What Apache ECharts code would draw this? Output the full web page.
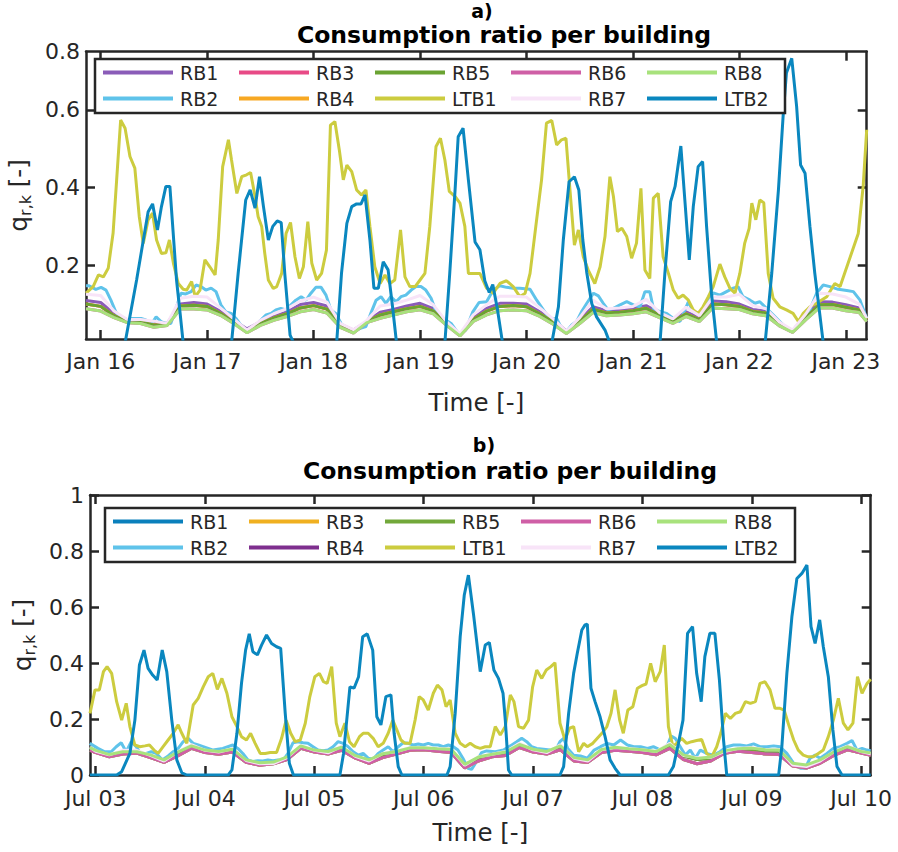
<!DOCTYPE html>
<html><head><meta charset="utf-8">
<script src="https://cdn.jsdelivr.net/npm/echarts@6/dist/echarts.min.js"></script>
<style>html,body{margin:0;padding:0;background:#fff;overflow:hidden}#a,#b{width:898px;height:426px}</style>
</head><body><div id="a"></div><div id="b"></div>
<script>
// ---------- tick labels ----------
const xTicks = [0,24,48,72,96,120,144,168];           // hours since first labelled day
const xLabelsA = ['Jan 16','Jan 17','Jan 18','Jan 19','Jan 20','Jan 21','Jan 22','Jan 23'];
const xLabelsB = ['Jul 03','Jul 04','Jul 05','Jul 06','Jul 07','Jul 08','Jul 09','Jul 10'];
const yTicksA = [0.2,0.4,0.6];
const yLabelValsA = [0.2,0.4,0.6,0.75];
const yTicksB = [0,0.2,0.4,0.6,0.8,1];
const legendOrder = ['RB1','RB3','RB5','RB6','RB8','RB2','RB4','LTB1','RB7','LTB2'];
const seriesNames = ['RB1','RB2','RB3','RB4','RB5','LTB1','RB6','RB7','RB8','LTB2'];

// ---------- chart a) : January (hours since Jan 16 00:00) ----------
const tLTB1a = [-3.3,-1.7,-0.5,0.6,1.7,2.8,3.6,4.5,5.5,6.6,7.7,8.7,9.6,10.7,11.7,12.6,13.7,14.7,15.5,16.4,17.5,18.6,19.4,20.5,21.3,22.4,23.5,24.6,25.8,26.5,27.5,28.8,29.5,30.7,31.8,32.9,33.8,34.8,35.5,36.3,37,37.8,38.9,39.7,40.8,41.8,42.8,43.8,44.8,45.7,46.7,47.6,48.7,49.8,50.9,51.8,52.8,53.8,54.7,55.5,56.6,57.7,58.8,59.8,60.7,61.8,63,64.1,65.2,66.3,67.6,68.6,69.7,70.9,72,73.1,74.2,75.6,76.6,77.6,78.6,79.9,81,82.1,82.9,85.5,87,88.5,90,91.5,93,94.5,95.7,96.8,98.1,99.4,100.5,101.7,102.8,103.9,104.9,105.8,106.8,107.7,108.8,109.9,111.4,112.6,113.7,114.8,115.6,116.5,117.5,118.6,119.7,120.8,121.8,122.7,123.8,124.6,125.7,126.8,128,129.1,130.2,131.3,132.5,133.6,134.7,135.8,137,138.1,139.6,140.7,141.9,143,144.1,145.2,146.2,146.8,147.7,148.6,149.5,150.5,151.6,153.1,154.6,156.1,157.3,158.4,159.9,161.4,163.7,165.5,166.7,168.5,170.8,171.9,172.7];
const vLTB1a = [0.128,0.145,0.175,0.17,0.192,0.283,0.42,0.574,0.553,0.48,0.45,0.325,0.256,0.317,0.334,0.265,0.23,0.232,0.265,0.205,0.153,0.138,0.136,0.158,0.119,0.136,0.214,0.196,0.175,0.265,0.454,0.523,0.471,0.385,0.428,0.433,0.439,0.377,0.325,0.3,0.23,0.162,0.14,0.145,0.179,0.282,0.31,0.222,0.166,0.196,0.312,0.205,0.162,0.179,0.239,0.561,0.57,0.497,0.42,0.458,0.441,0.394,0.381,0.394,0.3,0.196,0.153,0.175,0.153,0.162,0.291,0.17,0.145,0.145,0.162,0.179,0.3,0.506,0.527,0.471,0.39,0.377,0.36,0.3,0.179,0.179,0.141,0.128,0.153,0.16,0.145,0.119,0.128,0.179,0.3,0.42,0.566,0.573,0.51,0.523,0.527,0.394,0.252,0.291,0.222,0.188,0.153,0.196,0.274,0.428,0.377,0.287,0.295,0.274,0.218,0.257,0.398,0.188,0.166,0.373,0.385,0.222,0.179,0.136,0.115,0.123,0.11,0.085,0.076,0.093,0.119,0.145,0.203,0.17,0.14,0.128,0.179,0.257,0.295,0.36,0.317,0.368,0.361,0.179,0.115,0.093,0.085,0.076,0.055,0.076,0.093,0.102,0.119,0.153,0.145,0.205,0.282,0.403,0.549];
const tLTB2a = [-3.3,5.5,8.1,10.7,11.7,12.8,13.7,14.7,15.6,17.1,17.9,18.6,29.5,31,32.7,33.7,34.8,35.8,36.7,37.8,38.8,39.8,40.7,41.5,42.7,43.5,53.2,54.3,55.5,56.6,57.7,58.7,59.6,60.7,61.6,62.6,63.7,64.8,65.8,66.7,77.6,78.7,79.9,80.6,81.7,82.9,84.4,85.5,86.6,87.6,88.4,89.4,90.6,101.7,103.2,104.3,105.6,106.8,107.8,108.7,109.6,110.7,111.8,113.7,114.8,126.1,127.2,128.5,129.5,130.8,131.7,132.7,133.6,134.7,135.7,136.6,137.7,138.9,149.8,151.3,152.8,153.9,154.6,155.8,156.9,157.8,158.8,159.9,161,162.1,162.9,172.7];
const vLTB2a = [0,0,0.162,0.338,0.358,0.291,0.351,0.403,0.403,0.162,0.077,0,0,0.18,0.368,0.394,0.347,0.428,0.351,0.265,0.3,0.314,0.31,0.179,0.02,0,0,0.18,0.308,0.351,0.358,0.358,0.381,0.265,0.141,0.141,0.209,0.188,0.093,0,0,0.18,0.394,0.531,0.553,0.42,0.26,0.24,0.16,0.13,0.15,0.09,0,0,0.093,0.265,0.415,0.428,0.394,0.265,0.18,0.102,0.067,0.033,0,0,0.18,0.364,0.403,0.507,0.368,0.214,0.351,0.454,0.467,0.3,0.128,0,0,0.18,0.394,0.592,0.695,0.733,0.609,0.458,0.437,0.3,0.179,0.076,0,0];
const tRB2a = [-3.3,-2.6,-1.1,0.1,1.2,2.3,3.4,4.6,5.7,6.8,8,9.1,10.2,11.3,12.5,13.6,14.7,15.8,17,18.1,19.2,20.4,21.5,22.6,23.7,24.9,26,27.1,28.2,29.4,30.5,31.6,32.8,33.9,35,36.1,37.3,38.4,39.5,40.6,41.8,42.9,44,45.2,46.3,47.4,48.5,49.7,50.8,51.9,53,54.2,55.3,56.4,57.6,58.7,59.8,60.9,62.1,63.2,64.3,65.4,66.6,67.7,68.8,70,71.1,72.2,73.3,74.5,75.6,76.7,77.8,79,80.1,80.8,82.3,83.9,85.3,87,88.5,90,91.5,93,94.5,96.8,98.3,99.8,101.3,102.8,103.9,105,106.2,107.3,108.4,109.6,111.1,112.2,113.3,114.4,115.6,117.1,118.6,120.1,121.6,122.7,123.8,124.6,126.1,127.6,129.1,130.6,132.5,133.6,135.1,136.6,138.1,139.6,141.1,142.6,143.7,144.8,146.4,147.5,148.6,150.1,151.6,153.1,154.6,155.8,156.9,158.4,159.9,161.4,162.9,164.4,166.3,168.2,169.7,171.2,172.7];
const vRB2a = [0.147,0.147,0.138,0.143,0.136,0.11,0.08,0.063,0.057,0.063,0.063,0.063,0.059,0.046,0.067,0.055,0.05,0.05,0.089,0.128,0.126,0.132,0.149,0.145,0.136,0.141,0.132,0.098,0.08,0.076,0.063,0.046,0.029,0.033,0.046,0.059,0.072,0.076,0.085,0.089,0.085,0.098,0.11,0.119,0.11,0.128,0.143,0.143,0.123,0.085,0.076,0.05,0.038,0.033,0.033,0.038,0.042,0.076,0.11,0.119,0.102,0.119,0.106,0.119,0.123,0.136,0.145,0.145,0.136,0.115,0.08,0.067,0.059,0.05,0.033,0.02,0.033,0.08,0.104,0.106,0.136,0.147,0.143,0.141,0.141,0.138,0.11,0.085,0.061,0.063,0.038,0.029,0.046,0.055,0.08,0.102,0.128,0.121,0.102,0.085,0.089,0.098,0.106,0.098,0.093,0.132,0.132,0.089,0.08,0.076,0.063,0.055,0.106,0.08,0.076,0.098,0.129,0.123,0.132,0.141,0.145,0.119,0.11,0.102,0.106,0.089,0.072,0.055,0.038,0.029,0.042,0.067,0.085,0.128,0.149,0.145,0.138,0.135,0.132,0.11,0.063];
const tRBa = [-3.3,0,3,6,9,12,15,18,21,24,27,30,33,36,39,42,45,48,51,54,57,60,63,66,69,72,75,78,81,84,87,90,93,96,99,102,105,108,111,114,117,120,123,126,129,132,135,138,141,144,147,150,153,156,159,162,165,168,171,172.7];
const vRB1a = [0.109,0.104,0.075,0.059,0.055,0.052,0.05,0.1,0.104,0.1,0.081,0.058,0.036,0.054,0.069,0.08,0.099,0.104,0.095,0.048,0.033,0.055,0.079,0.086,0.095,0.102,0.088,0.05,0.022,0.065,0.089,0.102,0.102,0.1,0.08,0.06,0.03,0.06,0.093,0.083,0.085,0.089,0.096,0.077,0.06,0.08,0.064,0.108,0.106,0.1,0.086,0.082,0.05,0.032,0.07,0.106,0.105,0.098,0.09,0.063];
const vRB3a = [0.1,0.094,0.07,0.055,0.053,0.046,0.047,0.095,0.097,0.094,0.076,0.054,0.03,0.05,0.064,0.075,0.09,0.096,0.087,0.044,0.029,0.054,0.072,0.08,0.088,0.094,0.082,0.048,0.02,0.06,0.082,0.094,0.096,0.093,0.075,0.054,0.027,0.055,0.087,0.077,0.079,0.083,0.089,0.071,0.055,0.075,0.06,0.1,0.098,0.094,0.081,0.077,0.047,0.03,0.065,0.098,0.099,0.092,0.085,0.06];
const vRB4a = [0.1,0.094,0.07,0.055,0.053,0.046,0.047,0.095,0.097,0.094,0.076,0.054,0.03,0.05,0.064,0.075,0.09,0.096,0.087,0.044,0.029,0.054,0.072,0.08,0.088,0.094,0.082,0.048,0.02,0.06,0.082,0.094,0.096,0.093,0.075,0.054,0.027,0.055,0.087,0.077,0.079,0.083,0.089,0.071,0.055,0.075,0.06,0.1,0.098,0.094,0.081,0.077,0.047,0.03,0.065,0.098,0.099,0.092,0.085,0.06];
const vRB5a = [0.1,0.094,0.07,0.055,0.053,0.046,0.047,0.095,0.097,0.094,0.076,0.054,0.03,0.05,0.064,0.075,0.09,0.096,0.087,0.044,0.029,0.054,0.072,0.08,0.088,0.094,0.082,0.048,0.02,0.06,0.082,0.094,0.096,0.093,0.075,0.054,0.027,0.055,0.087,0.077,0.079,0.083,0.089,0.071,0.055,0.075,0.06,0.1,0.098,0.094,0.081,0.077,0.047,0.03,0.065,0.098,0.099,0.092,0.085,0.06];
const vRB6a = [0.088,0.082,0.065,0.052,0.05,0.04,0.045,0.088,0.087,0.085,0.071,0.05,0.026,0.045,0.058,0.068,0.08,0.086,0.077,0.04,0.025,0.052,0.063,0.072,0.08,0.085,0.075,0.045,0.018,0.055,0.072,0.083,0.085,0.083,0.068,0.048,0.024,0.05,0.078,0.07,0.072,0.075,0.08,0.065,0.05,0.068,0.055,0.09,0.088,0.086,0.075,0.07,0.044,0.027,0.06,0.09,0.09,0.083,0.078,0.055];
const vRB7a = [0.125,0.122,0.082,0.06,0.06,0.056,0.05,0.115,0.12,0.118,0.09,0.062,0.033,0.058,0.075,0.088,0.108,0.118,0.105,0.05,0.034,0.058,0.095,0.1,0.11,0.122,0.098,0.054,0.024,0.072,0.098,0.12,0.12,0.118,0.09,0.062,0.03,0.065,0.11,0.088,0.09,0.094,0.112,0.078,0.062,0.092,0.07,0.118,0.118,0.125,0.096,0.088,0.054,0.033,0.075,0.128,0.126,0.118,0.1,0.063];
const vRB8a = [0.088,0.082,0.065,0.052,0.05,0.04,0.045,0.088,0.087,0.085,0.071,0.05,0.026,0.045,0.058,0.068,0.08,0.086,0.077,0.04,0.025,0.052,0.063,0.072,0.08,0.085,0.075,0.045,0.018,0.055,0.072,0.083,0.085,0.083,0.068,0.048,0.024,0.05,0.078,0.07,0.072,0.075,0.08,0.065,0.05,0.068,0.055,0.09,0.088,0.086,0.075,0.07,0.044,0.027,0.06,0.09,0.09,0.083,0.078,0.055];

// ---------- chart b) : July (hours since Jul 03 00:00) ----------
const tLTB1b = [-1.25,-0.15,0.8,1.7,2.5,3.5,4.6,5.7,6.7,7.5,8.6,9.7,10.8,11.8,12.8,13.7,14.8,15.9,17,18.1,18.9,20,21.4,22.5,23.6,24.7,25.7,26.7,27.7,28.8,29.9,31,32,33.1,34,35,36.1,37.2,38.3,39.7,40.8,41.8,42.8,43.8,44.9,46,47,48.1,49.1,50,50.8,51.8,52.8,53.6,54.7,55.7,56.7,57.9,58.7,59.8,60.9,62,63.1,64.2,65.2,66.1,67,67.9,69,70.1,71,71.9,73,74.1,75,76,76.9,77.8,78.9,80,81.1,82.2,83.3,84.4,85.5,86.6,87.7,88.8,89.9,91,91.8,92.8,93.9,95,95.9,96.8,97.9,98.9,99.9,100.8,101.9,103,104,104.9,106,107.1,107.9,109.1,110.1,111.1,112.2,113.1,114,115,115.8,116.8,117.9,118.9,119.9,120.8,121.8,122.8,123.9,124.8,125.7,126.7,127.5,128.6,129.7,130.8,131.9,133,134.1,135.2,136.3,137.2,138.2,139.3,140.4,141.5,142.6,143.7,144.8,145.8,146.9,148,149.1,150.2,151.1,152.1,153.2,154.2,155.3,156.4,157.5,158.6,159.7,160.8,161.9,163,164.1,165.1,166.2,167.2,168.2,169.3,170.1];
const vLTB1b = [0.22,0.304,0.304,0.369,0.387,0.363,0.262,0.196,0.256,0.173,0.107,0.101,0.104,0.107,0.089,0.077,0.101,0.125,0.149,0.179,0.149,0.113,0.25,0.274,0.315,0.351,0.363,0.306,0.345,0.292,0.208,0.173,0.137,0.125,0.149,0.113,0.077,0.077,0.08,0.08,0.131,0.196,0.149,0.119,0.125,0.185,0.28,0.351,0.363,0.333,0.327,0.387,0.185,0.137,0.185,0.119,0.101,0.137,0.149,0.149,0.131,0.101,0.113,0.149,0.196,0.161,0.125,0.113,0.113,0.196,0.28,0.268,0.232,0.292,0.321,0.304,0.244,0.268,0.149,0.113,0.101,0.113,0.101,0.095,0.101,0.101,0.173,0.143,0.173,0.286,0.262,0.173,0.167,0.196,0.315,0.375,0.345,0.375,0.387,0.401,0.185,0.125,0.167,0.173,0.083,0.113,0.101,0.113,0.131,0.149,0.173,0.22,0.304,0.196,0.149,0.232,0.244,0.31,0.319,0.325,0.399,0.333,0.369,0.464,0.173,0.101,0.113,0.131,0.113,0.119,0.123,0.127,0.077,0.065,0.101,0.149,0.22,0.202,0.22,0.226,0.262,0.256,0.262,0.327,0.333,0.304,0.238,0.238,0.232,0.179,0.125,0.089,0.071,0.065,0.065,0.077,0.089,0.137,0.196,0.274,0.185,0.161,0.185,0.351,0.292,0.327,0.342];
const tLTB2b = [-1.25,4.6,5.7,7.5,8.6,9.6,10.6,11.5,12.5,13.5,14.6,15.6,16.7,17.8,18.9,20,29.1,29.9,31,32,32.9,33.7,34.5,35.5,36.4,37.5,38.6,39.7,40.6,41.6,42.5,43.4,53.6,54.4,55.1,55.8,56.7,57.7,58.6,59.6,60.8,61.7,62.6,63.7,64.8,65.5,66.4,67.2,77.1,77.8,78.9,80,80.9,81.8,82.9,84.4,85.5,86.4,87.4,88.4,89.4,89.9,90.6,91.3,101.9,102.7,103.8,104.9,105.7,106.7,107.4,107.9,108.7,109.6,110.7,111.8,112.9,114,115.1,125.7,126.8,127.9,128.9,129.9,131,131.9,132.9,133.7,134.8,135.9,136.9,137.8,138.5,149.9,150.6,151.7,152.8,153.9,155,156.1,157,157.9,158.9,159.7,160.8,161.8,162.7,163.8,170.1];
const vLTB2b = [0,0,0.012,0.077,0.196,0.393,0.446,0.381,0.357,0.339,0.446,0.369,0.196,0.054,0.008,0,0,0.018,0.149,0.327,0.446,0.504,0.44,0.429,0.464,0.5,0.47,0.458,0.452,0.22,0.042,0,0,0.077,0.196,0.315,0.31,0.351,0.494,0.504,0.446,0.208,0.179,0.28,0.286,0.149,0.03,0,0,0.03,0.22,0.494,0.643,0.714,0.577,0.369,0.464,0.473,0.375,0.345,0.292,0.196,0.018,0,0,0.03,0.22,0.363,0.435,0.518,0.536,0.539,0.31,0.262,0.208,0.137,0.054,0.024,0,0,0.03,0.113,0.196,0.506,0.53,0.363,0.262,0.423,0.506,0.506,0.339,0.125,0,0,0.101,0.363,0.565,0.702,0.72,0.75,0.53,0.47,0.554,0.458,0.351,0.161,0.03,0,0];
const tRB2b = [-1.3,0.5,2,3.4,4.5,5.6,6.7,7.8,8.9,10,11.1,12.2,13.3,14.6,15.9,17,18.1,19.2,20.3,21.4,22.5,23.6,24.7,25.8,26.8,27.9,29,30.1,31.2,32.3,33.4,34.5,35.6,36.7,37.8,38.9,40,41.1,42.2,43.3,44.4,45.5,46.6,47.7,48.8,49.9,51,52.1,53.2,54.3,55.4,56.5,57.6,58.7,59.8,60.9,62,63.1,64.2,65.3,66.4,67.5,68.6,69.7,70.8,71.9,73,74.1,75.2,76.3,77.4,78.5,79.5,80.6,81.7,82.5,83.6,84.7,85.8,87.7,89.5,91,92.4,93.5,94.6,95.7,96.8,98.3,99.7,100.8,101.9,102.7,103.6,104.9,106.4,107.9,109.4,110.8,112.3,113.7,115.2,116.7,118.1,119.6,121.1,122.4,124,125.5,126.3,127.2,128.3,129.4,130.5,131.6,132.7,134.1,135.6,137,138.5,140,141.4,142.9,144.4,145.8,147.3,148.8,150.2,151.7,153.2,154.7,155.7,156.8,157.9,159,160.5,161.9,163.4,164.9,166,167.1,168.2,169.3,170.1];
const vRB2b = [0.113,0.095,0.083,0.083,0.101,0.115,0.083,0.119,0.101,0.071,0.077,0.083,0.077,0.054,0.068,0.083,0.095,0.119,0.131,0.113,0.107,0.101,0.095,0.089,0.092,0.095,0.101,0.107,0.095,0.077,0.054,0.048,0.051,0.05,0.054,0.051,0.054,0.051,0.077,0.115,0.119,0.115,0.113,0.101,0.089,0.087,0.089,0.101,0.119,0.113,0.101,0.083,0.071,0.077,0.06,0.056,0.077,0.089,0.101,0.083,0.101,0.115,0.113,0.107,0.111,0.107,0.113,0.107,0.107,0.101,0.107,0.101,0.089,0.06,0.024,0.02,0.048,0.08,0.086,0.083,0.089,0.104,0.119,0.131,0.119,0.101,0.095,0.092,0.089,0.083,0.119,0.131,0.095,0.071,0.068,0.06,0.089,0.101,0.113,0.107,0.125,0.107,0.101,0.101,0.095,0.101,0.089,0.107,0.139,0.131,0.101,0.071,0.089,0.06,0.089,0.077,0.071,0.083,0.101,0.107,0.107,0.104,0.111,0.101,0.101,0.104,0.101,0.077,0.042,0.024,0.024,0.06,0.071,0.06,0.077,0.095,0.101,0.113,0.123,0.089,0.095,0.089,0.087];
const tRBb = [-1.25,0,3,6,9,12,15,18,21,24,27,30,33,36,39,42,45,48,51,54,57,60,63,66,69,72,75,78,81,84,87,90,93,96,99,102,105,108,111,114,117,120,123,126,129,132,135,138,141,144,147,150,153,156,159,162,165,168,170.1];
const vRB1b = [0.088,0.08,0.065,0.075,0.078,0.062,0.045,0.068,0.095,0.08,0.074,0.082,0.045,0.035,0.04,0.055,0.095,0.082,0.075,0.088,0.06,0.042,0.062,0.075,0.088,0.09,0.085,0.08,0.025,0.05,0.065,0.07,0.098,0.082,0.075,0.09,0.05,0.045,0.08,0.088,0.085,0.08,0.072,0.095,0.055,0.04,0.05,0.078,0.085,0.08,0.075,0.073,0.032,0.025,0.042,0.07,0.09,0.078,0.07];
const vRB3b = [0.088,0.08,0.065,0.075,0.078,0.062,0.045,0.068,0.095,0.08,0.074,0.082,0.045,0.035,0.04,0.055,0.095,0.082,0.075,0.088,0.06,0.042,0.062,0.075,0.088,0.09,0.085,0.08,0.025,0.05,0.065,0.07,0.098,0.082,0.075,0.09,0.05,0.045,0.08,0.088,0.085,0.08,0.072,0.095,0.055,0.04,0.05,0.078,0.085,0.08,0.075,0.073,0.032,0.025,0.042,0.07,0.09,0.078,0.07];
const vRB4b = [0.095,0.085,0.07,0.08,0.08,0.068,0.05,0.078,0.1,0.085,0.08,0.088,0.05,0.04,0.042,0.06,0.1,0.085,0.08,0.095,0.065,0.05,0.072,0.08,0.093,0.093,0.09,0.088,0.035,0.06,0.07,0.078,0.105,0.088,0.08,0.1,0.058,0.05,0.087,0.095,0.09,0.086,0.08,0.105,0.068,0.055,0.06,0.083,0.09,0.092,0.086,0.085,0.038,0.032,0.05,0.078,0.097,0.08,0.075];
const vRB5b = [0.095,0.085,0.07,0.08,0.08,0.068,0.05,0.078,0.1,0.085,0.08,0.088,0.05,0.04,0.042,0.06,0.1,0.085,0.08,0.095,0.065,0.05,0.072,0.08,0.093,0.093,0.09,0.088,0.035,0.06,0.07,0.078,0.105,0.088,0.08,0.1,0.058,0.05,0.087,0.095,0.09,0.086,0.08,0.105,0.068,0.055,0.06,0.083,0.09,0.092,0.086,0.085,0.038,0.032,0.05,0.078,0.097,0.08,0.075];
const vRB6b = [0.088,0.08,0.065,0.075,0.078,0.062,0.045,0.068,0.095,0.08,0.074,0.082,0.045,0.035,0.04,0.055,0.095,0.082,0.075,0.088,0.06,0.042,0.062,0.075,0.088,0.09,0.085,0.08,0.025,0.05,0.065,0.07,0.098,0.082,0.075,0.09,0.05,0.045,0.08,0.088,0.085,0.08,0.072,0.095,0.055,0.04,0.05,0.078,0.085,0.08,0.075,0.073,0.032,0.025,0.042,0.07,0.09,0.078,0.07];
const vRB7b = [0.1,0.085,0.072,0.088,0.088,0.07,0.05,0.083,0.108,0.088,0.082,0.094,0.052,0.04,0.041,0.062,0.105,0.088,0.079,0.103,0.067,0.05,0.077,0.084,0.098,0.097,0.095,0.093,0.035,0.065,0.074,0.084,0.113,0.09,0.08,0.108,0.06,0.05,0.09,0.098,0.095,0.09,0.084,0.113,0.07,0.062,0.063,0.084,0.095,0.098,0.09,0.09,0.036,0.03,0.05,0.083,0.103,0.084,0.076];
const vRB8b = [0.098,0.088,0.073,0.083,0.083,0.072,0.054,0.082,0.104,0.089,0.084,0.092,0.054,0.044,0.046,0.065,0.104,0.089,0.084,0.099,0.069,0.054,0.076,0.084,0.097,0.097,0.094,0.092,0.038,0.064,0.074,0.082,0.109,0.092,0.084,0.104,0.062,0.054,0.091,0.099,0.094,0.09,0.084,0.109,0.072,0.059,0.064,0.087,0.094,0.096,0.09,0.089,0.042,0.036,0.054,0.082,0.101,0.084,0.079];

// ---------- styling ----------
const FONT = 'DejaVu Sans';
const INK = '#262626';
const colorsA = {RB1:'#8a5cb8',RB2:'#5fc3ea',RB3:'#e84a86',RB4:'#f7a823',RB5:'#6aa332',LTB1:'#cccc3f',RB6:'#cf5fa6',RB7:'#f8e4f8',RB8:'#a8e27c',LTB2:'#0a87bf'};
const colorsB = {RB1:'#0a80bc',RB2:'#5fc3ea',RB3:'#f0b020',RB4:'#7e2f8e',RB5:'#72a83a',LTB1:'#cccc3f',RB6:'#cf5fa6',RB7:'#f8e4f8',RB8:'#a8e27c',LTB2:'#0a87bf'};

const zip = (t, v) => t.map((x, i) => [x, v[i]]);

function buildOption(cfg) {
  const tickStyle = {show:true, inside:true, length:9, lineStyle:{color:INK, width:2.5}};
  const lineAx = {show:true, onZero:false, lineStyle:{color:INK, width:2.5}};
  const series = cfg.data.map(d => ({
    name: d.name, type: 'line', data: zip(d.t, d.v),
    showSymbol: false, symbol: 'none', clip: true, silent: true,
    lineStyle: {width: 3, color: cfg.colors[d.name]},
    itemStyle: {color: cfg.colors[d.name]},
    emphasis: {disabled: true}
  }));
  return {
    animation: false,
    backgroundColor: '#fff',
    textStyle: {fontFamily: FONT},
    graphic: [
      {type:'text', x: cfg.tagX, y: cfg.tagY, style:{text: cfg.tag, fontFamily: FONT, fontWeight:'bold', fontSize: 19, fill:'#000', align:'center', verticalAlign:'middle'}},
      {type:'text', x: cfg.titleX, y: cfg.titleY, style:{text:'Consumption ratio per building', fontFamily: FONT, fontWeight:'bold', fontSize: 23.5, fill:'#000', align:'center', verticalAlign:'middle'}}
    ],
    grid: {left: cfg.grid[0], top: cfg.grid[1], width: cfg.grid[2], height: cfg.grid[3], containLabel:false, outerBoundsMode:'none'},
    legend: {
      data: legendOrder, left: cfg.legendPos[0], top: cfg.legendPos[1], orient:'horizontal', width: 690,
      icon:'rect', itemWidth: 70, itemHeight: 4, itemGap: 7, selectedMode: false,
      padding: [4, 9, 5, 8], borderColor: INK, borderWidth: 2.5, backgroundColor:'#fff',
      textStyle: {fontFamily: FONT, fontSize: 19, color: INK, width: 52, lineHeight: 19, padding:[0,0,0,2]}
    },
    xAxis: [
      {type:'value', min: cfg.xMin, max: cfg.xMax, position:'bottom', axisLine: lineAx,
       axisTick: Object.assign({customValues: xTicks}, tickStyle),
       axisLabel: {customValues: xTicks, formatter: v => cfg.xLabels[xTicks.indexOf(Math.round(v))], fontFamily: FONT, fontSize: 22, lineHeight: 22, color: INK, margin: cfg.xLabelMargin},
       splitLine: {show:false},
       name: 'Time [-]', nameLocation:'middle', nameGap: cfg.xNameGap, nameTextStyle:{fontFamily: FONT, fontSize: 24.5, color: INK}},
      {type:'value', min: cfg.xMin, max: cfg.xMax, position:'top', axisLine: lineAx,
       axisTick: Object.assign({customValues: xTicks}, tickStyle), axisLabel:{show:false}, splitLine:{show:false}}
    ],
    yAxis: [
      {type:'value', min: cfg.yMin, max: cfg.yMax, position:'left', axisLine: lineAx,
       axisTick: Object.assign({customValues: cfg.yTicks}, tickStyle),
       axisLabel: {customValues: cfg.yLabelVals, formatter: cfg.yFmt, fontFamily: FONT, fontSize: 22, lineHeight: 18, color: INK, margin: 6},
       splitLine: {show:false},
       name: '{a|q}{b|r,k}{a| [-]}', nameLocation:'middle', nameGap: cfg.yNameGap,
       nameTextStyle: {color: INK, rich: {a:{fontFamily: FONT, fontSize: 24.5, color: INK, lineHeight: 30}, b:{fontFamily: FONT, fontSize: 16, color: INK, verticalAlign:'bottom', lineHeight: 22}}}},
      {type:'value', min: cfg.yMin, max: cfg.yMax, position:'right', axisLine: lineAx,
       axisTick: Object.assign({customValues: cfg.yTicks}, tickStyle), axisLabel:{show:false}, splitLine:{show:false}}
    ],
    series: series
  };
}

const optA = buildOption({
  tag:'a)', tagX: 482, tagY: 11, titleX: 504, titleY: 35,
  grid: [86, 51.7, 780.7, 287.3], legendPos: [95, 59],
  xMin: -3.31, xMax: 172.7, xLabels: xLabelsA, xLabelMargin: 11, xNameGap: 51,
  yMin: 0.01, yMax: 0.75, yTicks: yTicksA, yLabelVals: yLabelValsA,
  yFmt: v => (v > 0.7 ? '0.8' : v.toFixed(1)), yNameGap: 53,
  colors: colorsA,
  data: [
    {name:'RB1', t:tRBa, v:vRB1a}, {name:'RB2', t:tRB2a, v:vRB2a}, {name:'RB3', t:tRBa, v:vRB3a},
    {name:'RB4', t:tRBa, v:vRB4a}, {name:'RB5', t:tRBa, v:vRB5a}, {name:'LTB1', t:tLTB1a, v:vLTB1a},
    {name:'RB6', t:tRBa, v:vRB6a}, {name:'RB7', t:tRBa, v:vRB7a}, {name:'RB8', t:tRBa, v:vRB8a},
    {name:'LTB2', t:tLTB2a, v:vLTB2a}
  ]
});
const optB = buildOption({
  tag:'b)', tagX: 484, tagY: 19, titleX: 510, titleY: 45,
  grid: [90, 69, 780.7, 280], legendPos: [105, 82],
  xMin: -1.25, xMax: 170.1, xLabels: xLabelsB, xLabelMargin: 12, xNameGap: 45,
  yMin: 0, yMax: 1, yTicks: yTicksB, yLabelVals: yTicksB,
  yFmt: v => (v === 0 ? '0' : (v === 1 ? '1' : v.toFixed(1))), yNameGap: 53,
  colors: colorsB,
  data: [
    {name:'RB1', t:tRBb, v:vRB1b}, {name:'RB2', t:tRB2b, v:vRB2b}, {name:'RB3', t:tRBb, v:vRB3b},
    {name:'RB4', t:tRBb, v:vRB4b}, {name:'RB5', t:tRBb, v:vRB5b}, {name:'LTB1', t:tLTB1b, v:vLTB1b},
    {name:'RB6', t:tRBb, v:vRB6b}, {name:'RB7', t:tRBb, v:vRB7b}, {name:'RB8', t:tRBb, v:vRB8b},
    {name:'LTB2', t:tLTB2b, v:vLTB2b}
  ]
});
echarts.init(document.getElementById('a'), null, {renderer:'svg'}).setOption(optA);
echarts.init(document.getElementById('b'), null, {renderer:'svg'}).setOption(optB);
</script></body></html>
